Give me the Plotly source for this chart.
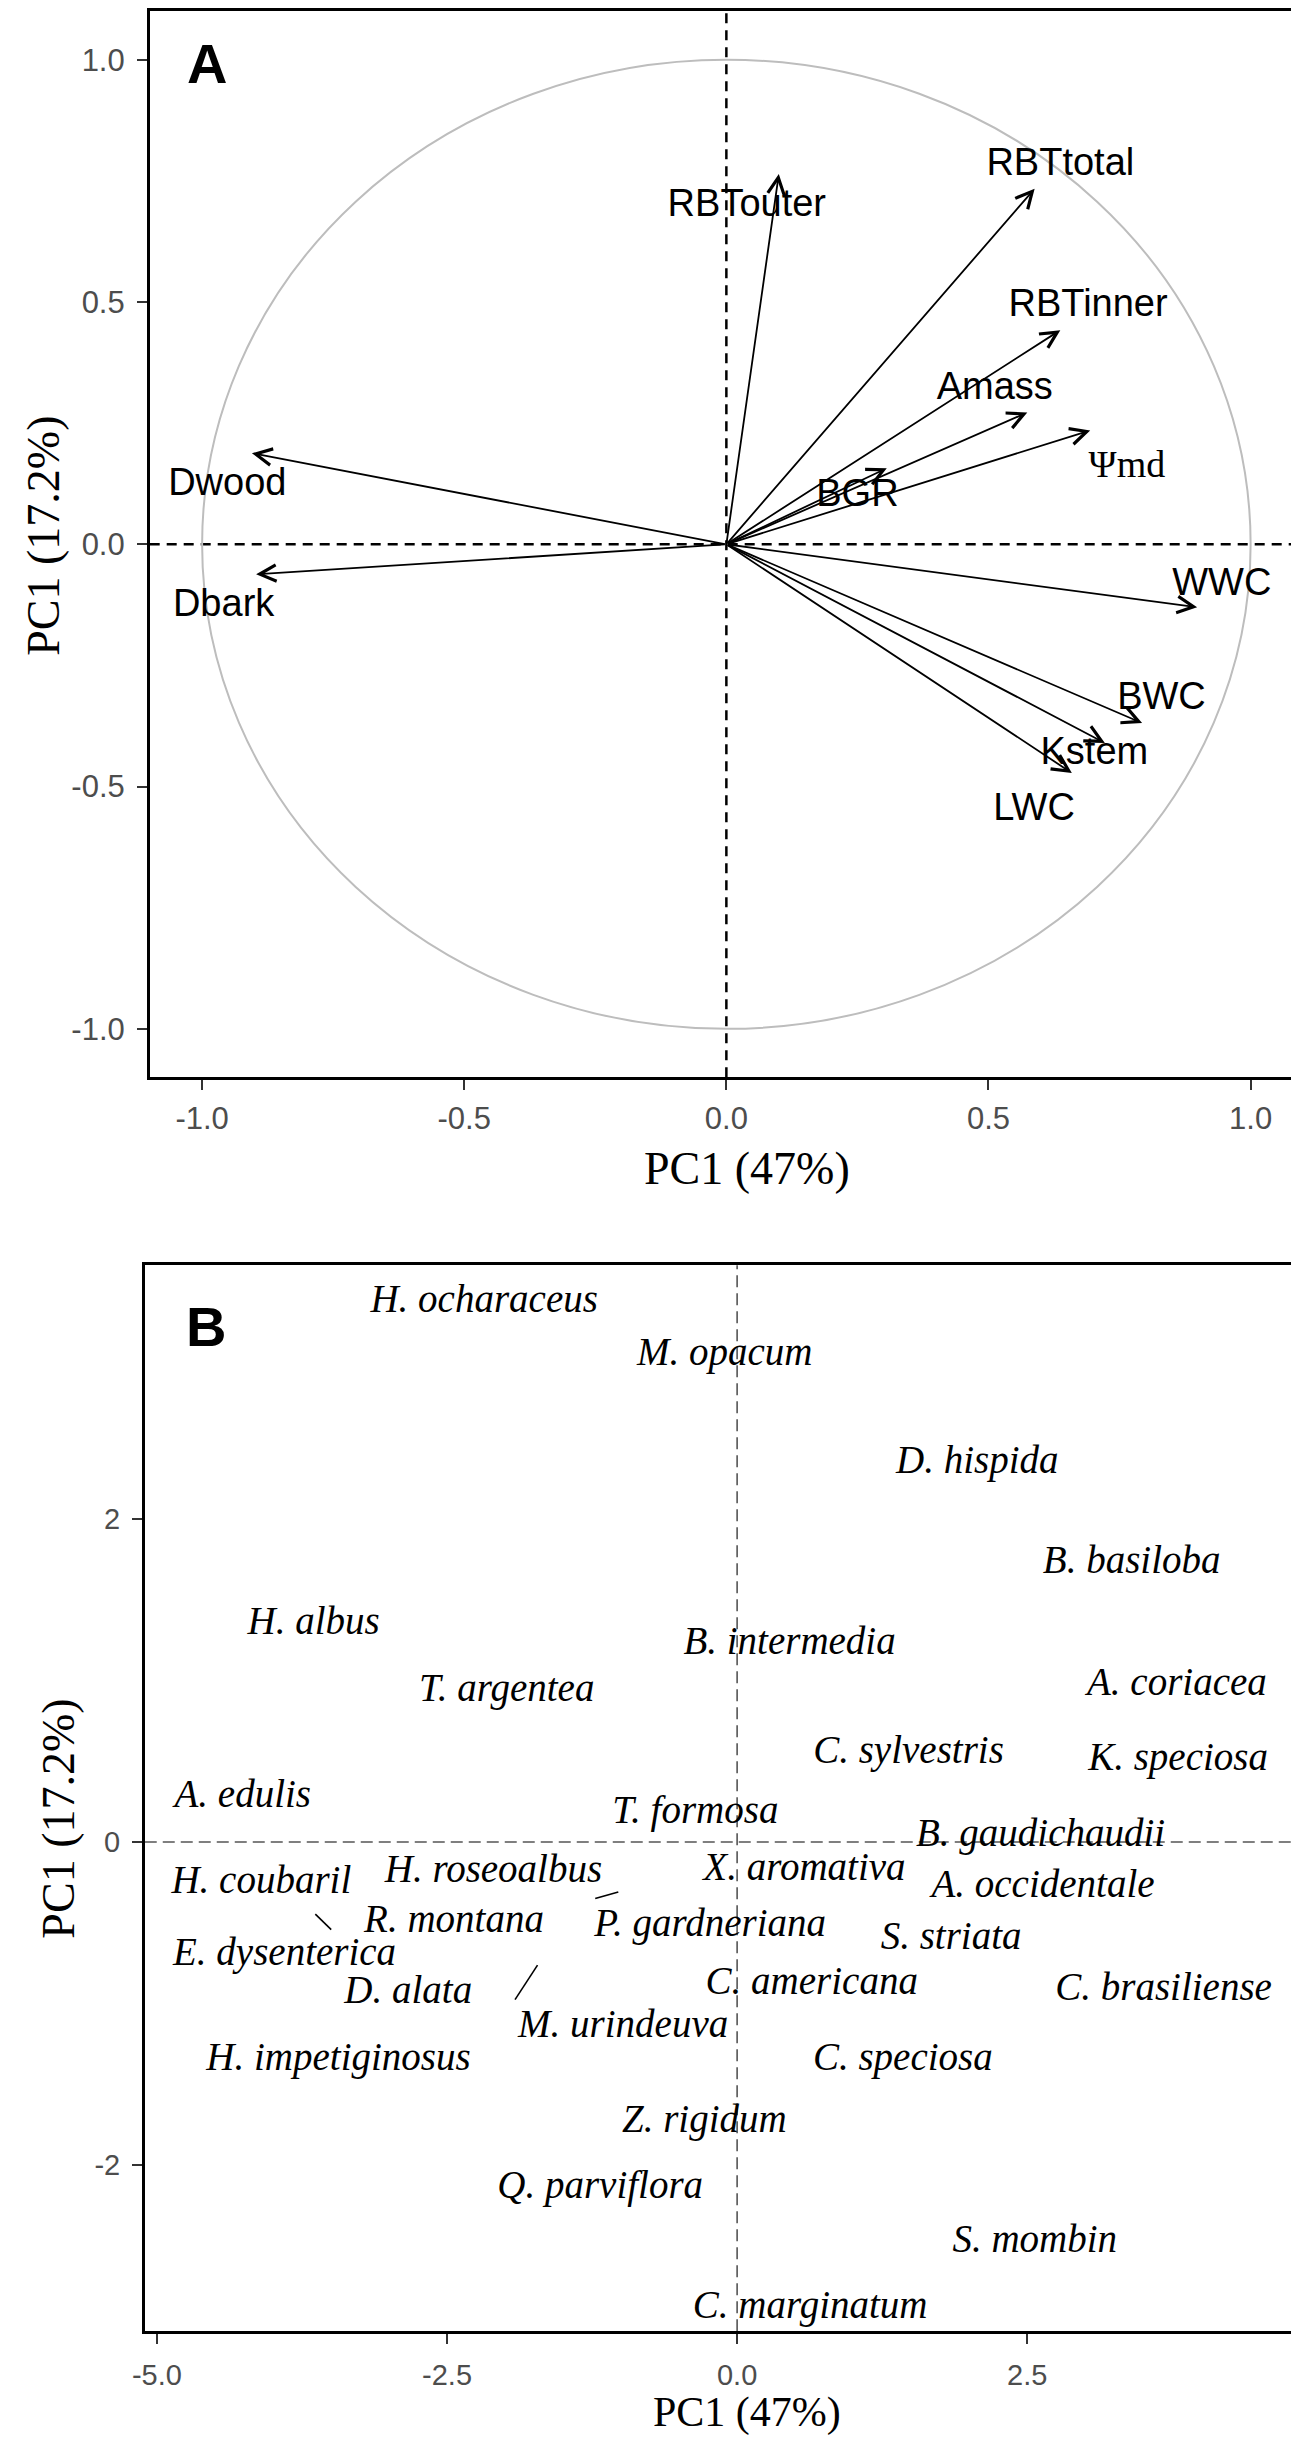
import plotly.graph_objects as go

W, H = 1299, 2437

# ---------------- Panel A data (variable loadings) ----------------
var_names = ["RBTouter", "RBTtotal", "RBTinner", "Amass", "Ψmd", "BGR",
             "Dwood", "Dbark", "WWC", "BWC", "Kstem", "LWC"]
var_pc1 = [0.100, 0.588, 0.637, 0.574, 0.694, 0.306,
           -0.905, -0.897, 0.898, 0.793, 0.722, 0.659]
var_pc2 = [0.764, 0.734, 0.442, 0.272, 0.235, 0.157,
           0.188, -0.062, -0.130, -0.369, -0.410, -0.472]
var_lab_x = [0.039, 0.637, 0.690, 0.512, 0.764, 0.250,
             -0.952, -0.959, 0.945, 0.830, 0.702, 0.587]
var_lab_y = [0.698, 0.781, 0.491, 0.320, 0.159, 0.098,
             0.122, -0.128, -0.085, -0.320, -0.434, -0.549]
var_font = ["Liberation Sans"] * 4 + ["Liberation Serif"] + ["Liberation Sans"] * 7

a_ticks = [-1.0, -0.5, 0.0, 0.5, 1.0]
a_ticktext = ["-1.0", "-0.5", "0.0", "0.5", "1.0"]

# ---------------- Panel B data (species scores) ----------------
species = ["H. ocharaceus", "M. opacum", "D. hispida", "B. basiloba", "H. albus",
           "B. intermedia", "T. argentea", "A. coriacea", "C. sylvestris", "K. speciosa",
           "A. edulis", "T. formosa", "B. gaudichaudii", "H. coubaril", "H. roseoalbus",
           "X. aromativa", "A. occidentale", "R. montana", "P. gardneriana", "S. striata",
           "E. dysenterica", "C. americana", "C. brasiliense", "D. alata", "M. urindeuva",
           "H. impetiginosus", "C. speciosa", "Z. rigidum", "Q. parviflora", "S. mombin",
           "C. marginatum"]
sp_pc1 = [-2.18, -0.106, 2.07, 3.40, -3.65,
          0.452, -1.986, 3.79, 1.477, 3.80,
          -4.26, -0.36, 2.615, -4.10, -2.10,
          0.58, 2.636, -2.44, -0.233, 1.844,
          -3.90, 0.643, 3.675, -2.834, -0.982,
          -3.435, 1.428, -0.283, -1.18, 2.565,
          0.629]
sp_pc2 = [3.345, 3.017, 2.347, 1.726, 1.350,
          1.227, 0.934, 0.973, 0.548, 0.504,
          0.279, 0.176, 0.034, -0.259, -0.186,
          -0.176, -0.284, -0.499, -0.523, -0.606,
          -0.704, -0.880, -0.919, -0.939, -1.149,
          -1.355, -1.355, -1.741, -2.147, -2.479,
          -2.890]
# short repel connector segments (start / end)
seg_x0 = [-3.635, -1.223, -1.914]
seg_y0 = [-0.448, -0.351, -0.978]
seg_x1 = [-3.498, -1.024, -1.720]
seg_y1 = [-0.544, -0.310, -0.764]

b_xticks = [-5.0, -2.5, 0.0, 2.5]
b_xticktext = ["-5.0", "-2.5", "0.0", "2.5"]
b_yticks = [-2, 0, 2]
b_yticktext = ["-2", "0", "2"]

x_title = "PC1 (47%)"
y_title = "PC1 (17.2%)"

# ---------------- layout geometry (pixels) ----------------
A_left, A_right, A_top, A_bot = 130, 1295, 3.3, 1069.3
B_left, B_right, B_top, B_bot = 125, 1295, 1257.3, 2323.3

def px_x(p):
    return p / W

def px_y(p):
    return 1 - p / H

fig = go.Figure()

# Panel A labels
fig.add_trace(go.Scatter(
    x=var_lab_x, y=var_lab_y, mode="text", text=var_names,
    textposition="middle center",
    textfont=dict(family=var_font, size=38, color="black"),
    xaxis="x", yaxis="y", hoverinfo="skip", showlegend=False))

# Panel B connector segments
sx, sy = [], []
for a, b, c, d in zip(seg_x0, seg_y0, seg_x1, seg_y1):
    sx += [a, c, None]
    sy += [b, d, None]
fig.add_trace(go.Scatter(x=sx, y=sy, mode="lines",
                         line=dict(color="black", width=1.6),
                         xaxis="x2", yaxis="y2", hoverinfo="skip", showlegend=False))

# Panel B labels
fig.add_trace(go.Scatter(
    x=sp_pc1, y=sp_pc2, mode="text", text=species,
    textposition="middle center",
    textfont=dict(family="Liberation Serif", size=39, color="black", style="italic"),
    xaxis="x2", yaxis="y2", hoverinfo="skip", showlegend=False))

annotations = []
# arrows panel A
for x1, y1 in zip(var_pc1, var_pc2):
    annotations.append(dict(
        x=x1, y=y1, ax=0, ay=0, xref="x", yref="y", axref="x", ayref="y",
        text="", showarrow=True, arrowhead=5, arrowsize=1.8, arrowwidth=1.8,
        arrowcolor="black", standoff=0, startstandoff=0))

title_font = dict(family="Liberation Serif", size=46, color="black")
title_font_b = dict(family="Liberation Serif", size=42, color="black")
annotations += [
    dict(text=x_title, x=px_x(733), y=px_y(1160), xref="paper", yref="paper",
         showarrow=False, xanchor="center", yanchor="middle", font=title_font),
    dict(text=y_title, x=px_x(23), y=px_y(528), xref="paper", yref="paper",
         showarrow=False, xanchor="center", yanchor="middle", textangle=-90, font=title_font),
    dict(text=x_title, x=px_x(733), y=px_y(2404), xref="paper", yref="paper",
         showarrow=False, xanchor="center", yanchor="middle", font=title_font_b),
    dict(text=y_title, x=px_x(37), y=px_y(1811), xref="paper", yref="paper",
         showarrow=False, xanchor="center", yanchor="middle", textangle=-90, font=title_font),
    dict(text="A", x=px_x(187.5), y=px_y(56), xref="paper", yref="paper",
         showarrow=False, xanchor="center", yanchor="middle",
         font=dict(family="Liberation Sans", size=56, color="black", weight="bold")),
    dict(text="B", x=px_x(187), y=px_y(1318), xref="paper", yref="paper",
         showarrow=False, xanchor="center", yanchor="middle",
         font=dict(family="Liberation Sans", size=56, color="black", weight="bold")),
]

shapes = [
    # correlation circle
    dict(type="circle", xref="x", yref="y", x0=-1, y0=-1, x1=1, y1=1,
         line=dict(color="#BDBDBD", width=2), layer="below"),
    # panel A dashed reference lines
    dict(type="line", xref="x", yref="y domain", x0=0, x1=0, y0=0, y1=1,
         line=dict(color="black", width=2.5, dash="10px,7px"), layer="below"),
    dict(type="line", xref="x domain", yref="y", x0=0, x1=1, y0=0, y1=0,
         line=dict(color="black", width=2.5, dash="10px,7px"), layer="below"),
    # panel B dashed reference lines
    dict(type="line", xref="x2", yref="y2 domain", x0=0, x1=0, y0=0, y1=1,
         line=dict(color="#555555", width=1.6, dash="12px,6px"), layer="below"),
    dict(type="line", xref="x2 domain", yref="y2", x0=0, x1=1, y0=0, y1=0,
         line=dict(color="#555555", width=1.6, dash="12px,6px"), layer="below"),
]

tickfont = dict(family="Liberation Sans", size=31, color="#4D4D4D")
tickfont_b = dict(family="Liberation Sans", size=29, color="#4D4D4D")
axis_common = dict(showgrid=False, zeroline=False, showline=True, mirror=True,
                   linecolor="black", linewidth=2.5, ticks="outside", ticklen=10,
                   tickwidth=2, tickcolor="#333333")

fig.update_layout(
    width=W, height=H, margin=dict(l=0, r=0, t=0, b=0),
    paper_bgcolor="white", plot_bgcolor="white",
    showlegend=False,
    xaxis=dict(domain=[px_x(A_left), px_x(A_right)], range=[-1.1, 1.1],
               tickvals=a_ticks, ticktext=a_ticktext, anchor="y",
               ticklabelstandoff=2, tickfont=tickfont, **axis_common),
    yaxis=dict(domain=[px_y(A_bot), px_y(A_top)], range=[-1.1, 1.1],
               tickvals=a_ticks, ticktext=a_ticktext, anchor="x",
               ticklabelstandoff=6, tickfont=tickfont, **axis_common),
    xaxis2=dict(domain=[px_x(B_left), px_x(B_right)], range=[-5.105, 4.877],
                tickvals=b_xticks, ticktext=b_xticktext, anchor="y2",
                ticklabelstandoff=6, tickfont=tickfont_b, **axis_common),
    yaxis2=dict(domain=[px_y(B_bot), px_y(B_top)], range=[-3.034, 3.575],
                tickvals=b_yticks, ticktext=b_yticktext, anchor="x2",
                ticklabelstandoff=6, tickfont=tickfont_b, **axis_common),
    annotations=annotations,
    shapes=shapes,
)

fig.write_html("out.html")
